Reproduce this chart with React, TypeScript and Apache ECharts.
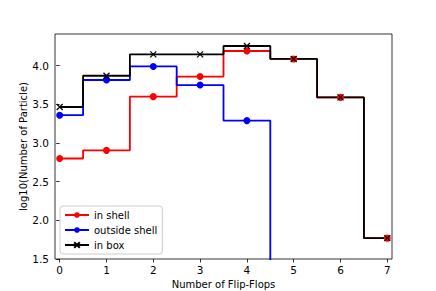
import React, { useEffect, useRef } from "react";
import * as echarts from "echarts";

const flipFlops = [0, 1, 2, 3, 4, 5, 6, 7];
const inShell = [2.8, 2.905, 3.6, 3.86, 4.19, 4.087, 3.59, 1.77];
const outsideShell = [3.36, 3.815, 3.99, 3.75, 3.29, 0, 0, 0];
const inBox = [3.466, 3.87, 4.147, 4.147, 4.255, 4.087, 3.59, 1.77];
const xTicks = [0, 1, 2, 3, 4, 5, 6, 7];
const yTicks = [1.5, 2.0, 2.5, 3.0, 3.5, 4.0];

const FONT = "DejaVu Sans";

function pairs(vals: number[]) {
  return flipFlops.map((x, i) => [x, vals[i]]);
}

export default function App() {
  const ref = useRef<HTMLDivElement>(null);
  useEffect(() => {
    if (!ref.current) return;
    const chart = echarts.init(ref.current, undefined, { renderer: "svg" });
    const xMark = "path://M0,0L10,10M10,0L0,10";
    chart.setOption({
      animation: false,
      backgroundColor: "#ffffff",
      textStyle: { fontFamily: FONT },
      grid: {
        left: 55,
        right: 44,
        top: 34,
        bottom: 32,
        show: true,
        outerBoundsMode: "none",
        borderColor: "#000",
        borderWidth: 0.8,
        backgroundColor: "transparent",
      },
      xAxis: {
        type: "value",
        min: -0.1,
        max: 7.1,
        name: "Number of Flip-Flops",
        nameLocation: "middle",
        nameGap: 20,
        nameMoveOverlap: false,
        nameTextStyle: { fontSize: 10, color: "#000", fontFamily: FONT },
        splitLine: { show: false },
        axisLine: { show: false },
        axisTick: {
          show: true,
          length: 3.5,
          customValues: xTicks,
          lineStyle: { color: "#000", width: 0.8 },
        },
        axisLabel: {
          customValues: xTicks,
          fontSize: 10.5,
          color: "#000",
          margin: 5,
          fontFamily: FONT,
          formatter: (v: number) => String(v),
        },
      },
      yAxis: {
        type: "value",
        min: 1.5,
        max: 4.41,
        name: "log10(Number of Particle)",
        nameLocation: "middle",
        nameGap: 27,
        nameMoveOverlap: false,
        nameTextStyle: { fontSize: 10, color: "#000", fontFamily: FONT },
        splitLine: { show: false },
        axisLine: { show: false },
        axisTick: {
          show: true,
          length: 3.5,
          customValues: yTicks,
          lineStyle: { color: "#000", width: 0.8 },
        },
        axisLabel: {
          customValues: yTicks,
          fontSize: 10.5,
          color: "#000",
          margin: 6,
          fontFamily: FONT,
          formatter: (v: number) => v.toFixed(1),
        },
      },
      legend: {
        orient: "vertical",
        left: 60,
        top: 206,
        itemWidth: 24,
        itemHeight: 7,
        itemGap: 5,
        padding: [4, 5, 4, 4],
        backgroundColor: "rgba(255,255,255,0.8)",
        borderColor: "#cccccc",
        borderWidth: 1,
        borderRadius: 3,
        textStyle: { fontSize: 10, color: "#000", fontFamily: FONT },
        data: ["in shell", "outside shell", "in box"],
      },
      series: [
        {
          name: "in shell",
          type: "line",
          step: "middle",
          data: pairs(inShell),
          symbol: "circle",
          symbolSize: 7,
          showAllSymbol: true,
          lineStyle: { color: "#ff0000", width: 1.8 },
          itemStyle: { color: "#ff0000" },
          clip: true,
        },
        {
          name: "outside shell",
          type: "line",
          step: "middle",
          data: pairs(outsideShell),
          symbol: "circle",
          symbolSize: 7,
          showAllSymbol: true,
          lineStyle: { color: "#0000ff", width: 1.8 },
          itemStyle: { color: "#0000ff" },
          clip: true,
        },
        {
          name: "in box",
          type: "line",
          step: "middle",
          data: pairs(inBox),
          symbol: xMark,
          symbolSize: 6,
          showAllSymbol: true,
          lineStyle: { color: "#000000", width: 1.8 },
          itemStyle: { color: "#000000", borderColor: "#000000", borderWidth: 1.2 },
          clip: true,
        },
      ],
    });
    return () => chart.dispose();
  }, []);
  return (
    <div
      ref={ref}
      style={{ position: "fixed", left: 0, top: 0, width: 436, height: 291 }}
    />
  );
}
